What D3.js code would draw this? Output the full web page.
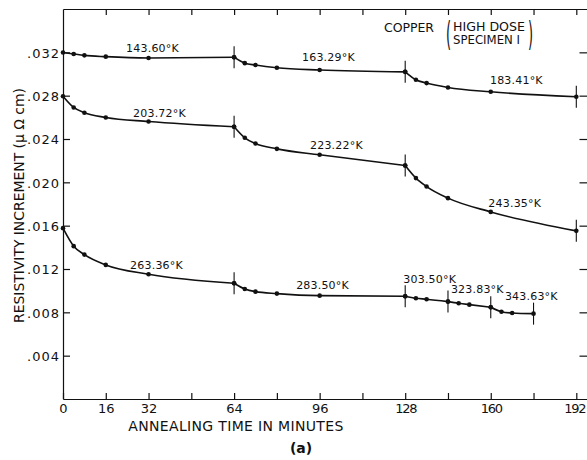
<!DOCTYPE html>
<html>
<head>
<meta charset="utf-8">
<script src="https://cdn.jsdelivr.net/npm/d3@7"></script>
<style>
  html, body { margin: 0; padding: 0; background: #fff; }
  svg { display: block; }
  text { fill: #111; font-family: "DejaVu Sans", sans-serif; }
  .axis path, .axis line { stroke: #111; stroke-width: 1.2; }
</style>
</head>
<body>
<svg id="chart" width="587" height="460"></svg>
<script>
// Annealing time (minutes) for each anneal step, grouped by annealing temperature
const upperTimes = [[0, 4, 8, 16, 32, 64], [64, 68, 72, 80, 96, 128], [128, 132, 136, 144, 160, 192]];
const upperValues = [
  [0.03199, 0.03185, 0.03172, 0.03160, 0.03148, 0.03155],
  [0.03155, 0.03100, 0.03083, 0.03058, 0.03037, 0.03020],
  [0.03020, 0.02947, 0.02916, 0.02876, 0.02836, 0.02790]
];
const upperTemps = ["143.60°K", "163.29°K", "183.41°K"];

const middleTimes = [[0, 4, 8, 16, 32, 64], [64, 68, 72, 80, 96, 128], [128, 132, 136, 144, 160, 192]];
const middleValues = [
  [0.02795, 0.02691, 0.02642, 0.02599, 0.02562, 0.02513],
  [0.02513, 0.02411, 0.02358, 0.02309, 0.02254, 0.02155],
  [0.02155, 0.02039, 0.01961, 0.01854, 0.01727, 0.01552]
];
const middleTemps = ["203.72°K", "223.22°K", "243.35°K"];

const lowerTimes = [[0, 4, 8, 16, 32, 64], [64, 68, 72, 80, 96, 128], [128, 132, 136, 144],
                    [144, 148, 152, 160], [160, 164, 168, 176]];
const lowerValues = [
  [0.01577, 0.01411, 0.01333, 0.01238, 0.01152, 0.01069],
  [0.01069, 0.01016, 0.00991, 0.00973, 0.00954, 0.00948],
  [0.00948, 0.00930, 0.00921, 0.00899],
  [0.00899, 0.00884, 0.00871, 0.00847],
  [0.00847, 0.00806, 0.00794, 0.00788]
];
const lowerTemps = ["263.36°K", "283.50°K", "303.50°K", "323.83°K", "343.63°K"];

// Temperature label anchors [minutes, resistivity] (left end of text, baseline)
const upperLabelAt = [[23.6, 0.03206], [89.4, 0.03120], [159.7, 0.02908]];
const middleLabelAt = [[26.2, 0.02606], [92.4, 0.02305], [159.1, 0.01775]];
const lowerLabelAt = [[25.1, 0.01200], [87.2, 0.01013], [127.3, 0.01074], [145.1, 0.00976], [165.3, 0.00918]];

// Axis ticks
const xTickValues = [16, 32, 48, 64, 80, 96, 112, 128, 144, 160, 176, 192];
const xTickLabels = ["0", "16", "32", "64", "96", "128", "160", "192"];
const yTickValues = [0.004, 0.008, 0.012, 0.016, 0.020, 0.024, 0.028, 0.032];
const yTickLabels = [".004", ".008", ".012", ".016", ".020", ".024", ".028", ".032"];

const svg = d3.select("#chart");
const plotLeft = 63, plotRight = 587, plotTop = 9, plotBottom = 399;

const x = d3.scaleLinear().domain([0, 196]).range([plotLeft, plotRight]);
const y = d3.scaleLinear().domain([0, 0.036]).range([plotBottom, plotTop]);

// Frame: four axes with inward ticks
svg.append("g").attr("class", "axis").attr("transform", `translate(0,${plotBottom})`)
  .call(d3.axisBottom(x).tickValues([0].concat(xTickValues)).tickSizeInner(-6).tickSizeOuter(0).tickPadding(5)
    .tickFormat(d => xTickLabels.includes(String(d)) ? String(d) : ""))
  .call(g => g.selectAll("text").attr("font-size", 13).attr("font-family", "DejaVu Sans")
    .each(function (d) {
      // three-digit labels are set tighter, like the narrow lettered "1"
      if (this.textContent.length === 3) d3.select(this).attr("letter-spacing", -1.3);
      if (d === 192) d3.select(this).attr("dx", -2);
    }));

svg.append("g").attr("class", "axis").attr("transform", `translate(0,${plotTop})`)
  .call(d3.axisTop(x).tickValues(xTickValues).tickSizeInner(-6).tickSizeOuter(0).tickFormat(""));

svg.append("g").attr("class", "axis").attr("transform", `translate(${plotLeft},0)`)
  .call(d3.axisLeft(y).tickValues(yTickValues).tickSizeInner(-7).tickSizeOuter(0).tickPadding(3)
    .tickFormat((d, i) => yTickLabels[i]))
  .call(g => g.selectAll("text").attr("font-size", 13).attr("font-family", "DejaVu Sans")
    .attr("letter-spacing", 1).attr("dy", "0.38em"));

svg.append("g").attr("class", "axis").attr("transform", `translate(${plotRight + 0.5},0)`)
  .call(d3.axisRight(y).tickValues(yTickValues).tickSizeInner(-8).tickSizeOuter(0).tickFormat(""));

svg.selectAll(".axis .domain").attr("fill", "none");

// Curves, markers, step separators, temperature labels
const line = d3.line().x(d => x(d[0])).y(d => y(d[1])).curve(d3.curveMonotoneX);

function drawSeries(times, values, temps, labelAt) {
  const g = svg.append("g");
  times.forEach((ts, s) => {
    const pts = ts.map((t, i) => [t, values[s][i]]);
    g.append("path").attr("d", line(pts))
      .attr("fill", "none").attr("stroke", "#111").attr("stroke-width", 1.6);
    g.selectAll(null).data(pts).enter().append("circle")
      .attr("cx", d => x(d[0])).attr("cy", d => y(d[1])).attr("r", 2.3).attr("fill", "#111");
    const end = pts[pts.length - 1];
    g.append("line")
      .attr("x1", x(end[0])).attr("x2", x(end[0]))
      .attr("y1", y(end[1]) - 11).attr("y2", y(end[1]) + 11)
      .attr("stroke", "#111").attr("stroke-width", 1.1);
  });
  temps.forEach((label, s) => {
    g.append("text").attr("x", x(labelAt[s][0])).attr("y", y(labelAt[s][1]))
      .attr("font-size", 11).attr("letter-spacing", 0.2).text(label);
  });
}

drawSeries(upperTimes, upperValues, upperTemps, upperLabelAt);
drawSeries(middleTimes, middleValues, middleTemps, middleLabelAt);
drawSeries(lowerTimes, lowerValues, lowerTemps, lowerLabelAt);

// Specimen note
svg.append("text").attr("x", 384).attr("y", 32.3).attr("font-size", 12.5).attr("textLength", 50)
  .attr("lengthAdjust", "spacing").text("COPPER");
svg.append("text").attr("transform", "translate(446,45.7) scale(1,2.6)").attr("font-size", 13).text("(");
svg.append("text").attr("transform", "translate(528,45.7) scale(1,2.6)").attr("font-size", 13).text(")");
svg.append("text").attr("x", 453).attr("y", 31.3).attr("font-size", 11.5).attr("textLength", 72)
  .attr("lengthAdjust", "spacingAndGlyphs").text("HIGH DOSE");
svg.append("text").attr("x", 453).attr("y", 43.8).attr("font-size", 11.5).attr("textLength", 67)
  .attr("lengthAdjust", "spacingAndGlyphs").text("SPECIMEN I");

// Axis titles
svg.append("text").attr("x", 235.8).attr("y", 431.3).attr("text-anchor", "middle")
  .attr("font-size", 14).attr("textLength", 215).attr("lengthAdjust", "spacing")
  .text("ANNEALING TIME IN MINUTES");

svg.append("text").attr("transform", "translate(24,205.5) rotate(-90)").attr("text-anchor", "middle")
  .attr("font-size", 14).attr("textLength", 235).attr("lengthAdjust", "spacing")
  .text("RESISTIVITY INCREMENT (μ Ω cm)");

svg.append("text").attr("x", 301).attr("y", 452.5).attr("text-anchor", "middle")
  .attr("font-family", "DejaVu Serif").attr("font-weight", "bold").attr("font-size", 14).text("(a)");
</script>
</body>
</html>
